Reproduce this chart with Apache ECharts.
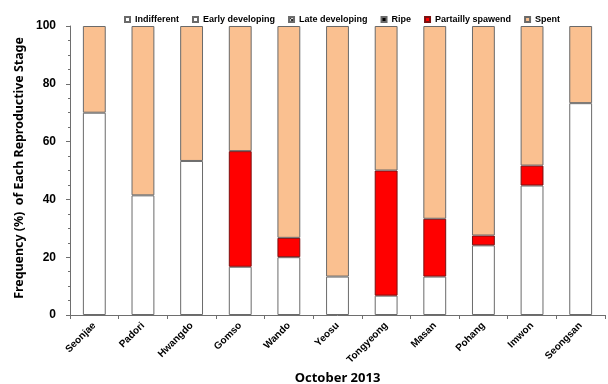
<!DOCTYPE html>
<html>
<head>
<meta charset="utf-8">
<script src="https://cdn.jsdelivr.net/npm/echarts@6/dist/echarts.min.js"></script>
<style>
  html, body { margin: 0; padding: 0; background: #fff; }
  #chart { width: 608px; height: 384px; }
</style>
</head>
<body>
<div id="chart"></div>
<script>
// Sampling sites, October 2013
const sites = ['Seonjae', 'Padori', 'Hwangdo', 'Gomso', 'Wando', 'Yeosu', 'Tongyeong', 'Masan', 'Pohang', 'Imwon', 'Seongsan'];

// Frequency (%) of each reproductive stage per site
const indifferent      = [70.0, 41.4, 53.3, 16.7, 20.0, 13.3, 6.7, 13.3, 24.1, 44.8, 73.3];
const earlyDeveloping  = [0, 0, 0, 0, 0, 0, 0, 0, 0, 0, 0];
const lateDeveloping   = [0, 0, 0, 0, 0, 0, 0, 0, 0, 0, 0];
const ripe             = [0, 0, 0, 0, 0, 0, 0, 0, 0, 0, 0];
const partiallySpawned = [0, 0, 0, 40.0, 6.7, 0, 43.3, 20.0, 3.4, 6.9, 0];
const spent            = [30.0, 58.6, 46.7, 43.3, 73.3, 86.7, 50.0, 66.7, 72.5, 48.3, 26.7];

const yTicks = [0, 20, 40, 60, 80, 100];

// small cross-hatch fill for the late developing stage
function hatch() {
  const c = document.createElement('canvas');
  c.width = 3; c.height = 3;
  const g = c.getContext('2d');
  g.fillStyle = '#ddd'; g.fillRect(0, 0, 3, 3);
  g.fillStyle = '#333';
  g.fillRect(0, 0, 1, 1); g.fillRect(2, 0, 1, 1);
  g.fillRect(1, 1, 1, 1);
  g.fillRect(0, 2, 1, 1); g.fillRect(2, 2, 1, 1);
  return c;
}

// zero entries are left out so empty stages draw nothing
const clean = arr => arr.map(v => (v === 0 ? '-' : v));

function stage(name, data, color, border) {
  return {
    name: name,
    type: 'bar',
    stack: 'total',
    barWidth: '47%',
    data: clean(data),
    itemStyle: { color: color, borderColor: border || '#6a6a6a', borderWidth: 1 },
    emphasis: { disabled: true }
  };
}

const chart = echarts.init(document.getElementById('chart'), null, { renderer: 'canvas' });
chart.setOption({
  animation: false,
  grid: { left: 70, right: 3, top: 26, bottom: 69, containLabel: false, outerBoundsMode: 'none' },
  legend: {
    left: 119,
    top: 10,
    icon: 'rect',
    itemWidth: 5,
    itemHeight: 5,
    itemGap: 13,
    selectedMode: false,
    textStyle: { fontFamily: 'Liberation Sans, Arial', fontWeight: 'bold', fontSize: 9, color: '#000' },
    data: ['Indifferent', 'Early developing', 'Late developing', 'Ripe', 'Partailly spawend', 'Spent']
  },
  xAxis: {
    type: 'category',
    data: sites,
    name: 'October 2013',
    nameLocation: 'middle',
    nameGap: 57,
    nameTextStyle: { fontFamily: 'Noto Sans, Open Sans', fontWeight: 'bold', fontSize: 13, color: '#000' },
    axisLine: { lineStyle: { color: '#6e6e6e', width: 1 } },
    axisTick: { show: true, alignWithLabel: false, length: 4, lineStyle: { color: '#6e6e6e' } },
    axisLabel: {
      rotate: 45,
      margin: 9,
      interval: 0,
      fontFamily: 'Liberation Sans, Arial',
      fontWeight: 'bold',
      fontSize: 10,
      color: '#000'
    },
    splitLine: { show: false }
  },
  yAxis: {
    type: 'value',
    min: yTicks[0],
    max: yTicks[yTicks.length - 1],
    interval: 20,
    name: 'Frequency (%)  of Each Reproductive Stage',
    nameLocation: 'middle',
    nameGap: 41,
    nameTextStyle: { fontFamily: 'Noto Sans, Open Sans', fontWeight: 'bold', fontSize: 12.4, color: '#000', padding: [0, 0, 0, 5] },
    axisLine: { show: true, lineStyle: { color: '#6e6e6e', width: 1 } },
    axisTick: { show: true, length: 4, lineStyle: { color: '#6e6e6e' } },
    minorTick: { show: true, splitNumber: 4, length: 2, lineStyle: { color: '#6e6e6e' } },
    axisLabel: { margin: 14, fontFamily: 'Liberation Sans, Arial', fontWeight: 'bold', fontSize: 12, color: '#000' },
    splitLine: { show: false }
  },
  series: [
    stage('Indifferent', indifferent, '#ffffff'),
    stage('Early developing', earlyDeveloping, '#ffffff'),
    stage('Late developing', lateDeveloping, { image: hatch(), repeat: 'repeat' }),
    stage('Ripe', ripe, '#000000'),
    stage('Partailly spawend', partiallySpawned, '#ff0000', '#7a1010'),
    stage('Spent', spent, '#fac090')
  ]
});
</script>
</body>
</html>
